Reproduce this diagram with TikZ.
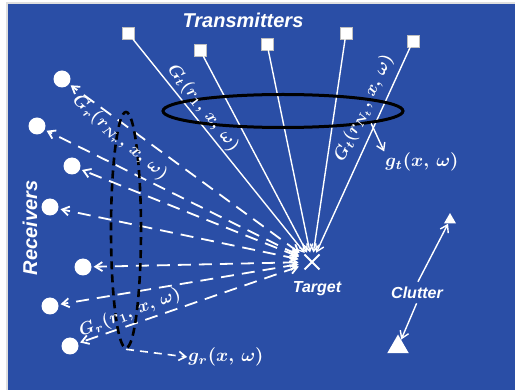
\documentclass[tikz,border=0pt]{standalone}
\usepackage{fontspec}
\setmainfont{Liberation Sans}
\usetikzlibrary{arrows.meta,shapes.geometric,shapes.misc}
\definecolor{bg}{RGB}{42,78,166}
\begin{document}
\begin{tikzpicture}[x=1pt,y=-1pt,
  txbox/.style={draw=gray!50,fill=white,minimum size=12pt,inner sep=0pt,line width=0.4pt},
  rxdot/.style={circle,fill=white,minimum size=17pt,inner sep=0pt},
  tline/.style={white,line width=1.4pt,-{Straight Barb[length=7pt,width=9pt]},shorten >=2pt},
  rline/.style={white,line width=1.8pt,dash pattern=on 13pt off 8pt,
     {Straight Barb[length=7pt,width=9pt]}-{Straight Barb[length=7pt,width=9pt]},shorten <=6pt,shorten >=2pt},
  bigtxt/.style={text=white,font=\bfseries\itshape\fontsize{20}{24}\selectfont},
  midtxt/.style={text=white,font=\bfseries\itshape\fontsize{16}{19}\selectfont},
  mlab/.style={text=white,font=\boldmath,scale=1.75,inner sep=0.5pt},
  glab/.style={text=white,font=\boldmath,scale=1.85,inner sep=0.5pt},
  warrow/.style={white,line width=1.4pt,-{Straight Barb[length=7pt,width=9pt]}},
  tri/.style={regular polygon,regular polygon sides=3,fill=white,inner sep=0pt}
]
\useasboundingbox (0,0) rectangle (515,390);
\fill[white] (0,0) rectangle (515,390);
\fill[gray!25] (6,2) rectangle (515,390);
\fill[bg] (8,4) rectangle (515,390);

% transmitters
\node[txbox] (t1) at (128,33) {};
\node[txbox] (t2) at (200,50) {};
\node[txbox] (t3) at (267,44) {};
\node[txbox] (t4) at (346,33) {};
\node[txbox] (t5) at (413,41) {};

% receivers
\node[rxdot] (r1) at (62,79) {};
\node[rxdot] (r2) at (37,126) {};
\node[rxdot] (r3) at (72,166) {};
\node[rxdot] (r4) at (50,207) {};
\node[rxdot] (r5) at (83,267) {};
\node[rxdot] (r6) at (50,306) {};
\node[rxdot] (r7) at (70,346) {};

% target
\node[cross out,draw=white,line width=2pt,minimum size=13pt,inner sep=0pt] (tgt) at (312,262) {};

% incident lines
\foreach \t in {t1,t2,t3,t4,t5}
  \draw[tline] (\t) -- (tgt);

% scattered lines
\foreach \r in {r1,r2,r3,r4,r5,r6,r7}
  \draw[rline] (tgt) -- (\r);

% ellipses
\node[ellipse,draw=black,line width=3pt,minimum width=240pt,minimum height=33pt,inner sep=0pt] (ell) at (283,111) {};
\node[ellipse,draw=black,line width=2.6pt,dash pattern=on 8pt off 5pt,minimum width=30pt,minimum height=236pt,inner sep=0pt] (dell) at (126,230) {};

% labels
\node[bigtxt] (ttl) at (243,20) {Transmitters};
\node[bigtxt,rotate=90] (rcv) at (30,228) {Receivers};
\node[midtxt] (tlab) at (317,289) {Target};
\node[midtxt] (clut) at (417,293) {Clutter};

\node[mlab,rotate=-52] (gt1) at (203,108) {$G_t(r_1,\,x,\,\omega)$};
\node[mlab,rotate=65] (gtn) at (364,108) {$G_t(r_{N_t},\,x,\,\omega)$};
\node[mlab,rotate=-41] (grn) at (120,138) {$G_r(r_{N_r},\,x,\,\omega)$};
\node[mlab,rotate=21] (gr1) at (130,313) {$G_r(r_1,\,x,\,\omega)$};

\node[glab] (gt) at (422,162) {$g_t(x,\,\omega)$};
\node[glab] (gr) at (226,357) {$g_r(x,\,\omega)$};

\draw[warrow] (ell.-8) -- (gt.north west);
\draw[white,line width=1.6pt,dash pattern=on 8pt off 6pt,-{Straight Barb[length=7pt,width=9pt]}] (dell.south) -- (gr.west);

% clutter
\node[tri,minimum size=14pt] (c1) at (450,220) {};
\node[tri,minimum size=25pt] (c2) at (398,347) {};
\draw[warrow,shorten <=2pt] (clut.north) -- (c1);
\draw[warrow,shorten <=1pt] (clut.south) -- (c2);
\end{tikzpicture}
\end{document}
